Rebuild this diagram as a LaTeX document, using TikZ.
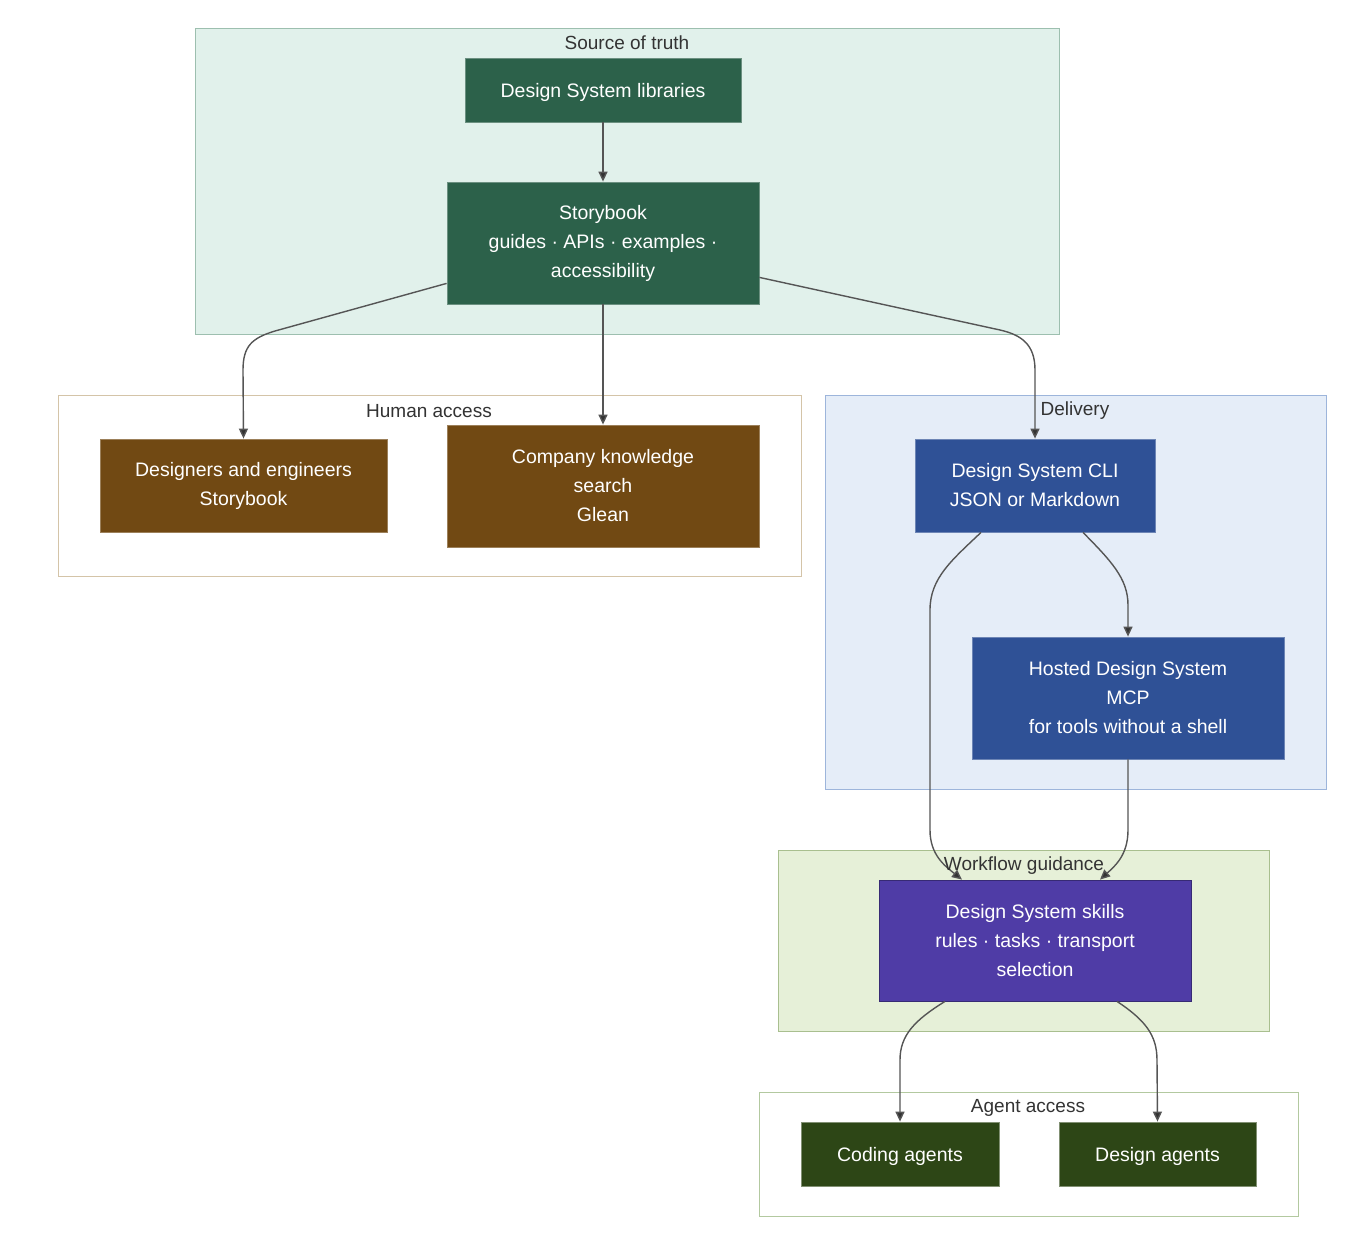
\documentclass[tikz,border=0pt]{standalone}
\usepackage{fontspec}
\setmainfont{Liberation Sans}
\usetikzlibrary{arrows.meta}
\definecolor{sotfill}{HTML}{E1F1EB}
\definecolor{sotdraw}{HTML}{9DBFAF}
\definecolor{hadraw}{HTML}{D4C4A8}
\definecolor{delfill}{HTML}{E5EDF8}
\definecolor{deldraw}{HTML}{9DB5DB}
\definecolor{wgfill}{HTML}{E6F0D8}
\definecolor{wgdraw}{HTML}{A9BF8F}
\definecolor{aadraw}{HTML}{B3C9A0}
\definecolor{ngreen}{HTML}{2C614A}
\definecolor{nbrown}{HTML}{714913}
\definecolor{nblue}{HTML}{2F5196}
\definecolor{npurple}{HTML}{4F3CA6}
\definecolor{ndgreen}{HTML}{2D4616}
\definecolor{edgecol}{HTML}{555555}
\definecolor{labcol}{HTML}{333333}
\tikzset{
  cluster/.style={rectangle, line width=1pt, inner sep=0pt},
  clabel/.style={text=labcol, font=\fontsize{19}{22}\selectfont, inner sep=0pt, anchor=center},
  box/.style={rectangle, line width=0.8pt, inner sep=0pt, text=white, align=center,
    font=\fontsize{19.5}{29}\selectfont, execute at begin node={\rule{0pt}{20pt}}},
  arr/.style={draw=edgecol, line width=1.4pt, -{Triangle[length=10pt,width=9pt,fill=labcol]}},
}
\begin{document}
\begin{tikzpicture}[x=1pt,y=-1pt]
\useasboundingbox (0,0) rectangle (1361,1245);
% clusters
\node[cluster, fill=sotfill, draw=sotdraw, minimum width=864pt, minimum height=306pt] (csot) at (627,181) {};
\node[clabel] (lsot) at (627,43) {Source of truth};
\node[cluster, fill=white, draw=hadraw, minimum width=743pt, minimum height=181pt] (cha) at (429.5,485.5) {};
\node[clabel] (lha) at (429,411) {Human access};
\node[cluster, fill=delfill, draw=deldraw, minimum width=501pt, minimum height=394pt] (cdel) at (1075.5,592) {};
\node[clabel] (ldel) at (1075,411) {Delivery};
\node[cluster, fill=wgfill, draw=wgdraw, minimum width=491pt, minimum height=181pt] (cwg) at (1023.5,940.5) {};
\node[cluster, fill=white, draw=aadraw, minimum width=539pt, minimum height=124pt] (caa) at (1028.5,1154) {};
\node[clabel] (laa) at (1028,1108) {Agent access};
% nodes
\node[box, fill=ngreen, draw=ngreen!70!white, minimum width=276pt, minimum height=64pt] (dsl) at (603,90) {Design System libraries};
\node[box, fill=ngreen, draw=ngreen!70!white, minimum width=312pt, minimum height=122pt] (sb) at (603,243) {Storybook\\guides · APIs · examples ·\\accessibility};
\node[box, fill=nbrown, draw=nbrown!70!white, minimum width=287pt, minimum height=93pt] (dg) at (243.5,485.5) {Designers and engineers\\Storybook};
\node[box, fill=nbrown, draw=nbrown!70!white, minimum width=312pt, minimum height=122pt] (ck) at (603,486) {Company knowledge\\search\\Glean};
\node[box, fill=nblue, draw=nblue!70!white, minimum width=240pt, minimum height=93pt] (cli) at (1035,485.5) {Design System CLI\\JSON or Markdown};
\node[box, fill=nblue, draw=nblue!70!white, minimum width=312pt, minimum height=122pt] (mcp) at (1128,698) {Hosted Design System\\MCP\\for tools without a shell};
\node[box, fill=npurple, draw=npurple!70!black, minimum width=312pt, minimum height=121pt] (sk) at (1035,940.5) {Design System skills\\rules · tasks · transport\\selection};
\node[box, fill=ndgreen, draw=ndgreen!60!white, minimum width=198pt, minimum height=64pt] (ca) at (900,1154) {Coding agents};
\node[box, fill=ndgreen, draw=ndgreen!60!white, minimum width=197pt, minimum height=64pt] (da) at (1157.5,1154) {Design agents};
% edges
\draw[arr] (dsl) -- (sb);
\draw[arr] ([yshift=21pt]sb.south west) -- (275,331) .. controls (252,338) and (243,346) .. (243,370) -- (dg.north);
\draw[arr] (sb) -- (ck);
\draw[arr] ([yshift=27pt]sb.south east) -- (1000,330) .. controls (1022,335) and (1035,345) .. (1035,370) -- (cli.north);
\draw[arr] ([xshift=-54pt]cli.south) .. controls (952,560) and (930,578) .. (930,610) -- (930,830) .. controls (930,855) and (945,866) .. ([xshift=-73pt]sk.north);
\draw[arr] ([xshift=48pt]cli.south) .. controls (1110,560) and (1128,578) .. (1128,605) -- (mcp.north);
\draw[arr] (mcp.south) -- (1128,830) .. controls (1128,855) and (1115,866) .. ([xshift=65pt]sk.north);
\draw[arr] ([xshift=-90pt]sk.south) .. controls (915,1020) and (900,1035) .. (900,1060) -- (ca.north);
\draw[arr] ([xshift=82pt]sk.south) .. controls (1145,1020) and (1157,1035) .. (1157,1060) -- (da.north);
\node[clabel] (lwg) at (1024,866) {Workflow guidance};
\end{tikzpicture}
\end{document}
